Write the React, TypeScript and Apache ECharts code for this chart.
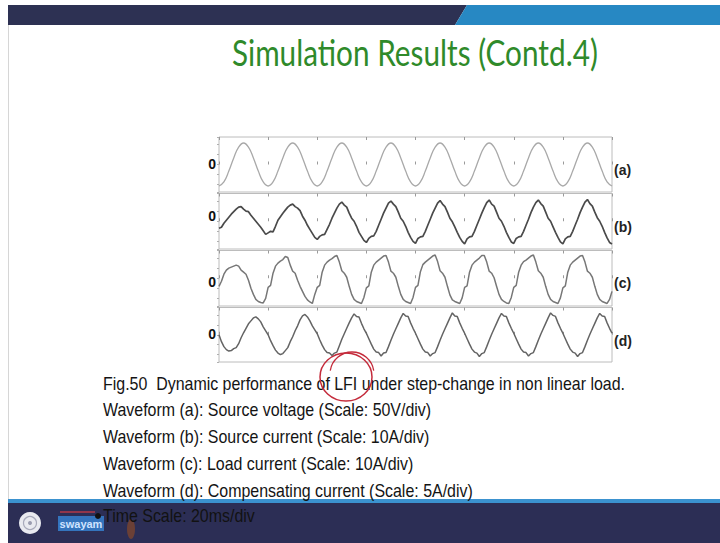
import React, { useEffect, useRef } from "react";
import * as echarts from "echarts";

// ---------- text ----------
const TITLE = "Simulation Results (Contd.4)";
const PANEL_TAGS = ["(a)", "(b)", "(c)", "(d)"];
const ZERO_LABEL = "0";
const CAPTION_LINES = [
  "Fig.50  Dynamic performance of LFI under step-change in non linear load.",
  "Waveform (a): Source voltage (Scale: 50V/div)",
  "Waveform (b): Source current (Scale: 10A/div)",
  "Waveform (c): Load current (Scale: 10A/div)",
  "Waveform (d): Compensating current (Scale: 5A/div)",
];
const TIME_SCALE = "Time Scale: 20ms/div";

// ---------- time axis (ms) ----------
const T_MIN = 0;
const T_MAX = 160;
const T_DIV = 20;
const STEP_A = 2; // sampling of waveform (a), ms
const STEP_BCD = 1; // sampling of waveforms (b)-(d), ms

// ---------- waveforms (arbitrary display units) ----------
const waveA = [
  -21.5, -17.4, -6.6, 6.6, 17.4, 21.5, 17.4, 6.6, -6.6, -17.4,
  -21.5, -17.4, -6.6, 6.6, 17.4, 21.5, 17.4, 6.6, -6.6, -17.4,
  -21.5, -17.4, -6.6, 6.6, 17.4, 21.5, 17.4, 6.6, -6.6, -17.4,
  -21.5, -17.4, -6.6, 6.6, 17.4, 21.5, 17.4, 6.6, -6.6, -17.4,
  -21.5, -17.4, -6.6, 6.6, 17.4, 21.5, 17.4, 6.6, -6.6, -17.4,
  -21.5, -17.4, -6.6, 6.6, 17.4, 21.5, 17.4, 6.6, -6.6, -17.4,
  -21.5, -17.4, -6.6, 6.6, 17.4, 21.5, 17.4, 6.6, -6.6, -17.4,
  -21.5, -17.4, -6.6, 6.6, 17.4, 21.5, 17.4, 6.6, -6.6, -17.4,
  -21.5,
];

const waveB = [
  -7, -6, -2, 1, 4, 7, 9.5, 12, 14, 14.5, 12, 10, 9.5, 6, 3, 0, -3, -6, -9.5, -13,
  -11.5, -10, -10.5, -5, 1, 4.5, 8, 11, 14, 16, 17, 14.5, 13, 10.5, 5, 1, -4, -8, -12, -16,
  -18, -15, -13.5, -13, -8, -3, 3, 8, 13, 17, 19, 16, 14, 8, 3, 0, -5, -11, -15, -19,
  -21, -17, -15, -14.5, -10, -4, 2, 8, 13, 18, 20, 17, 14.5, 9, 3, 0, -5, -11, -16, -20,
  -22, -17, -15.5, -15, -10, -4, 2, 8, 13, 18, 20.5, 17, 14.5, 9, 3, -0.5, -5.5, -11, -16, -20,
  -22.5, -17.5, -15.5, -15, -10, -4, 2, 8, 13.5, 18.5, 21, 17, 15, 9, 3, 0, -5, -11, -16, -20.5,
  -22, -17, -15.5, -15, -10, -4, 2, 8.5, 14, 18.5, 21, 17.5, 15, 9, 3, 0, -5.5, -11, -16, -20.5,
  -22.5, -17.5, -15.5, -15, -10, -4, 2, 8.5, 14, 19, 21.5, 17.5, 15, 9, 3.5, 0, -5, -11, -16.5, -21,
  -22.5,
];

const waveC = [
  -8, -3, 4, 8, 10, 11, 12, 13, 12, 8, 6, 4, -2, -10, -16, -21, -23, -24, -24.5, -20,
  -9, -7, 5, 12, 15, 17, 18.5, 21.5, 20.5, 13, 7, 5, -2, -8, -13, -18, -21.5, -23.5, -25, -16,
  -9, -7, 6, 13, 16, 18, 19.5, 21.5, 22.5, 16, 7.5, 5, 1, -8, -16, -21, -23, -24, -25, -19,
  -9.5, -7.5, 6, 13, 16, 18, 20, 22, 22.5, 16, 7, 5, 1, -8, -16, -21, -23, -24, -25, -19,
  -9, -7, 6.5, 13.5, 16, 18, 20, 22, 23, 16.5, 7.5, 5, 1, -8, -16.5, -21.5, -23, -24, -25, -19.5,
  -9, -7.5, 6, 13, 16, 18, 20, 22.5, 22.5, 16, 7, 5, 0.5, -8, -16, -21, -23, -24.5, -25, -19,
  -9, -7, 6, 13, 16.5, 18, 20, 22, 23, 16, 7.5, 5, 1, -8, -16, -21, -23, -24, -25, -19.5,
  -9.5, -7.5, 6, 13, 16, 18, 20, 22, 22.5, 16, 7, 5, 1, -8, -16, -21, -23, -24, -25, -21,
  -13,
];

const waveD = [
  0, -7, -12, -15, -16.5, -16, -14, -13, -9, -3, 2, 6.5, 11, 14, 17, 18, 16, 13, 8, 4,
  0, -6, -11, -15.5, -18.5, -20, -19, -16, -13, -7, -2, 4, 9, 15, 19, 20.5, 18, 14, 9, 5,
  1, -5, -10.5, -15, -18, -18.5, -21, -18.5, -17.5, -11, -4.5, 1, 6.5, 12, 17, 21, 18.5, 18, 11.5, 6,
  1.5, -4, -9.5, -14.5, -17.5, -18, -21.5, -18.5, -18, -12, -5.5, 0.5, 6, 11.5, 17, 21.5, 19, 18.5, 12, 6.5,
  1.5, -4, -9.5, -14.5, -17.5, -18, -21.5, -19, -18, -12, -5.5, 0.5, 6, 11.5, 17, 22, 19, 18.5, 12, 6.5,
  1.5, -4, -9.5, -14.5, -17.5, -18.5, -22, -19, -18, -12, -5.5, 0.5, 6, 11.5, 17, 21.5, 19, 18.5, 12, 6.5,
  1.5, -4, -9.5, -14.5, -17.5, -18, -21.5, -19, -18, -12, -5.5, 0.5, 6, 11.5, 17, 22, 19.5, 18.5, 12, 6.5,
  1.5, -4, -9.5, -14.5, -17.5, -18.5, -22, -19, -18, -12, -5.5, 0.5, 6, 11.5, 17, 21.5, 19, 18.5, 12, 6.5,
  1.5,
];

// ---------- layout / style ----------
const PLOT_LEFT = 219;
const PLOT_WIDTH = 393;
const PANELS = [
  { top: 137, height: 55 },
  { top: 193.5, height: 55.5 },
  { top: 250.5, height: 55.5 },
  { top: 307.5, height: 54.5 },
];
const Y_HALF = 27.5;
const ZERO_Y = [164, 216, 282, 334];
const TAG_Y = [170, 227, 283, 341];
const LINE_COLORS = ["#a9a9a9", "#4a4a4a", "#777777", "#646464"];
const LINE_WIDTHS = [1.3, 1.7, 1.5, 1.5];
const CAPTION_Y = [384, 410, 437, 464, 491];
const BODY_FONT = "'Liberation Sans', Arial, sans-serif";
const TITLE_FONT = "Lato, 'Open Sans', sans-serif";

function measure(text: string, font: string): number {
  const c = document.createElement("canvas");
  const ctx = c.getContext("2d");
  if (!ctx) return 1;
  ctx.font = font;
  return ctx.measureText(text).width || 1;
}

function pairs(times: number[], vals: number[]) {
  return vals.map((v, i) => [times[i], v]);
}

export default function App() {
  const ref = useRef<HTMLDivElement>(null);

  useEffect(() => {
    if (!ref.current) return;
    const chart = echarts.init(ref.current, undefined, { renderer: "svg" });

    const timesA = waveA.map((_, i) => T_MIN + i * STEP_A);
    const timesB = waveB.map((_, i) => T_MIN + i * STEP_BCD);
    const waves = [waveA, waveB, waveC, waveD];
    const times = [timesA, timesB, timesB, timesB];

    const captionScale = 522 / measure(CAPTION_LINES[0], `18.5px ${BODY_FONT}`);
    const titleScale = 366 / measure(TITLE, `37px ${TITLE_FONT}`);
    const timeScale = captionScale;

    const grids = PANELS.map((p) => ({
      left: PLOT_LEFT,
      width: PLOT_WIDTH,
      top: p.top,
      height: p.height,
      show: true,
      borderColor: "#bcbcbc",
      borderWidth: 1,
      backgroundColor: "transparent",
    }));

    const xAxes: any[] = [];
    PANELS.forEach((_, i) => {
      ["bottom", "top"].forEach((pos) => {
        xAxes.push({
          type: "value",
          gridIndex: i,
          position: pos,
          min: T_MIN,
          max: T_MAX,
          interval: T_DIV,
          axisLine: { show: false },
          axisTick: { show: true, inside: true, length: 3, lineStyle: { color: "#9a9a9a", width: 1 } },
          axisLabel: { show: false },
          splitLine: { show: false },
        });
      });
    });

    const yAxes = PANELS.map((_, i) => ({
      type: "value",
      gridIndex: i,
      position: "right",
      min: -Y_HALF,
      max: Y_HALF,
      axisLine: { show: false },
      axisTick: { show: true, inside: true, length: 2, lineStyle: { color: "#b0b0b0" } },
      axisLabel: { show: false },
      splitLine: { show: false },
    }));

    const series = waves.map((w, i) => ({
      type: "line",
      xAxisIndex: i * 2,
      yAxisIndex: i,
      data: pairs(times[i], w),
      showSymbol: false,
      symbol: "none",
      smooth: i === 0 ? 0.45 : false,
      lineStyle: { color: LINE_COLORS[i], width: LINE_WIDTHS[i] },
      silent: true,
    }));

    const txt = (
      text: string,
      x: number,
      y: number,
      opts: { size: number; family: string; weight?: string; fill?: string; align?: string; scaleX?: number }
    ) => ({
      type: "text",
      x,
      y,
      scaleX: opts.scaleX ?? 1,
      silent: true,
      style: {
        text,
        fill: opts.fill ?? "#151515",
        fontSize: opts.size,
        fontFamily: opts.family,
        fontWeight: opts.weight ?? "normal",
        textAlign: opts.align ?? "left",
        align: opts.align ?? "left",
        textVerticalAlign: "middle",
        verticalAlign: "middle",
      },
    });

    const elements: any[] = [
      // top banner
      { type: "polygon", silent: true, shape: { points: [[8, 5], [467, 5], [455, 25], [8, 25]] }, style: { fill: "#2d3153" } },
      { type: "polygon", silent: true, shape: { points: [[467, 5], [720, 5], [720, 25], [455, 25]] }, style: { fill: "#2788c3" } },
      // left slide edge
      { type: "line", silent: true, shape: { x1: 8.5, y1: 25, x2: 8.5, y2: 500 }, style: { stroke: "#d6d6d6", lineWidth: 1 } },
      // title
      txt(TITLE, 232, 52, { size: 37, family: TITLE_FONT, fill: "#2f8a2a", scaleX: titleScale }),
      // bottom bar
      { type: "rect", silent: true, shape: { x: 8, y: 499, width: 712, height: 4 }, style: { fill: "#3b92cf" } },
      { type: "rect", silent: true, shape: { x: 8, y: 503, width: 712, height: 40 }, style: { fill: "#2c2e55" } },
      // emblem
      { type: "circle", silent: true, shape: { cx: 30, cy: 523, r: 11 }, style: { fill: "#e9eaf0" } },
      { type: "circle", silent: true, shape: { cx: 30, cy: 523, r: 6.5 }, style: { fill: "none", stroke: "#a8aabb", lineWidth: 1.2 } },
      { type: "circle", silent: true, shape: { cx: 30, cy: 523, r: 2 }, style: { fill: "#9a9cb0" } },
      // swayam logo
      { type: "line", silent: true, shape: { x1: 60, y1: 512, x2: 95, y2: 512 }, style: { stroke: "#b23a48", lineWidth: 1.5 } },
      { type: "rect", silent: true, shape: { x: 58, y: 516, width: 46, height: 15 }, style: { fill: "#3474bd" } },
      txt("swayam", 81, 523.5, { size: 11, family: BODY_FONT, weight: "bold", fill: "#cfe3ff", align: "center" }),
      { type: "ellipse", silent: true, shape: { cx: 131, cy: 529, rx: 4, ry: 10 }, style: { fill: "#6b4036" } },
      // time scale line
      { type: "circle", silent: true, shape: { cx: 98, cy: 516, r: 3 }, style: { fill: "#111" } },
      txt(TIME_SCALE, 103, 516, { size: 18.5, family: BODY_FONT, scaleX: timeScale, fill: "#121212" }),
    ];

    PANELS.forEach((_, i) => {
      elements.push(txt(ZERO_LABEL, 216, ZERO_Y[i], { size: 14, family: BODY_FONT, weight: "bold", align: "right", fill: "#111" }));
      elements.push(txt(PANEL_TAGS[i], 614, TAG_Y[i], { size: 14, family: BODY_FONT, weight: "bold", fill: "#222" }));
    });

    CAPTION_LINES.forEach((line, i) => {
      elements.push(txt(line, 103, CAPTION_Y[i], { size: 18.5, family: BODY_FONT, scaleX: captionScale, fill: "#141414" }));
    });

    // red hand-drawn circle
    elements.push({ type: "ellipse", silent: true, shape: { cx: 346, cy: 377, rx: 26, ry: 24 }, style: { fill: "none", stroke: "#c42b3b", lineWidth: 1.5 } });
    elements.push({
      type: "arc",
      silent: true,
      shape: { cx: 352, cy: 374, r: 22, startAngle: Math.PI * 1.05, endAngle: Math.PI * 1.95 },
      style: { fill: "none", stroke: "#c42b3b", lineWidth: 1.3 },
    });

    chart.setOption({
      animation: false,
      backgroundColor: "#ffffff",
      grid: grids,
      xAxis: xAxes,
      yAxis: yAxes,
      series,
      graphic: { elements },
    });

    return () => chart.dispose();
  }, []);

  return (
    <div
      ref={ref}
      style={{ position: "fixed", left: 0, top: 0, width: 720, height: 543, background: "#fff" }}
    />
  );
}
